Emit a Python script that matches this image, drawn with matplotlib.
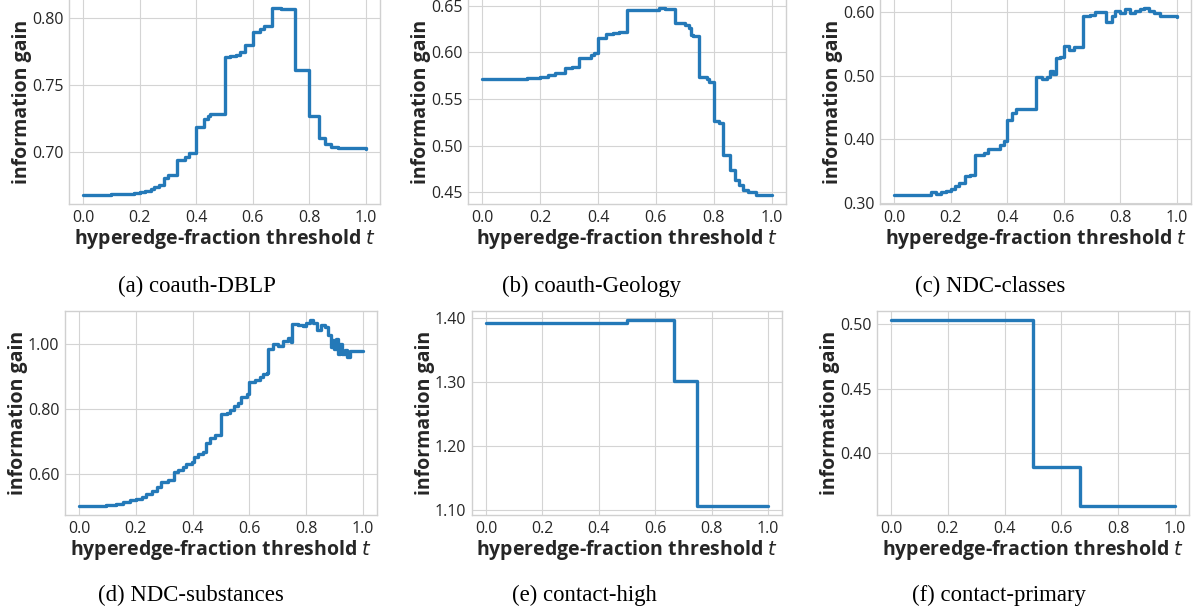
import matplotlib
matplotlib.use("Agg")
import matplotlib.pyplot as plt
from matplotlib.ticker import MultipleLocator, FormatStrFormatter

# information gain vs. hyperedge-fraction threshold t
t_dblp = [0.0, 0.10, 0.15, 0.18, 0.20, 0.22, 0.24, 0.25, 0.27, 0.2857, 0.30, 0.3333, 0.36, 0.375,
          0.40, 0.4286, 0.44, 0.45, 0.50, 0.52, 0.54, 0.556, 0.5714, 0.60, 0.625, 0.64, 0.6667,
          0.70, 0.75, 0.80, 0.8333, 0.8571, 0.875, 0.90, 1.0]
ig_dblp = [0.668, 0.6682, 0.6686, 0.6692, 0.6700, 0.6710, 0.6722, 0.6740, 0.6755, 0.6805, 0.6825,
           0.6942, 0.6960, 0.6995, 0.7185, 0.7248, 0.7270, 0.7285, 0.7710, 0.7715, 0.7725, 0.7745,
           0.7795, 0.7893, 0.7918, 0.7938, 0.8072, 0.8068, 0.7615, 0.7265, 0.7100, 0.7055, 0.7035,
           0.7025, 0.7022]

t_geology = [0.0, 0.155, 0.20, 0.226, 0.25, 0.2857, 0.31, 0.3333, 0.375, 0.385, 0.40, 0.4286, 0.45,
             0.473, 0.50, 0.57, 0.61, 0.63, 0.6667, 0.70, 0.7143, 0.72, 0.73, 0.75, 0.775, 0.785,
             0.80, 0.818, 0.8333, 0.8571, 0.875, 0.888, 0.90, 0.92, 0.945, 1.0]
ig_geology = [0.5719, 0.5726, 0.574, 0.5755, 0.578, 0.583, 0.5844, 0.5944, 0.597, 0.599, 0.6149,
              0.6195, 0.621, 0.6213, 0.6453, 0.6457, 0.6471, 0.646, 0.631, 0.6292, 0.6256, 0.6185,
              0.617, 0.574, 0.5711, 0.5683, 0.5263, 0.5246, 0.4905, 0.4737, 0.4636, 0.4582, 0.4529,
              0.45, 0.4475, 0.4475]

t_classes = [0.0, 0.124, 0.13, 0.147, 0.165, 0.182, 0.20, 0.214, 0.23, 0.25, 0.27, 0.2857, 0.318,
             0.3333, 0.365, 0.376, 0.388, 0.40, 0.418, 0.43, 0.50, 0.523, 0.54, 0.553, 0.562, 0.5714,
             0.586, 0.60, 0.618, 0.635, 0.6667, 0.694, 0.71, 0.75, 0.77, 0.78, 0.80, 0.818, 0.835,
             0.853, 0.87, 0.882, 0.90, 0.918, 0.94, 1.0]
ig_classes = [0.3132, 0.313, 0.3168, 0.3147, 0.3168, 0.319, 0.3226, 0.3263, 0.3316, 0.3421, 0.3442,
              0.3758, 0.378, 0.3853, 0.3842, 0.3916, 0.3974, 0.4305, 0.442, 0.4474, 0.4984, 0.4947,
              0.4989, 0.5079, 0.5026, 0.5274, 0.529, 0.5463, 0.541, 0.5447, 0.5937, 0.5958, 0.60,
              0.5853, 0.5947, 0.6026, 0.599, 0.6053, 0.599, 0.6026, 0.6053, 0.6063, 0.6026, 0.599,
              0.5937, 0.5921]

t_substances = [0.0, 0.073, 0.096, 0.13, 0.155, 0.18, 0.20, 0.22, 0.237, 0.255, 0.273, 0.29, 0.314,
                0.3333, 0.35, 0.367, 0.378, 0.396, 0.405, 0.42, 0.435, 0.447, 0.46, 0.478, 0.50,
                0.52, 0.53, 0.545, 0.56, 0.572, 0.59, 0.60, 0.62, 0.637, 0.648, 0.663, 0.6667, 0.684,
                0.70, 0.72, 0.737, 0.748, 0.75, 0.772, 0.79, 0.80, 0.813, 0.825, 0.837, 0.854, 0.866,
                0.878, 0.887, 0.895, 0.90, 0.907, 0.913, 0.919, 0.928, 0.937, 0.945, 0.954, 1.0]
ig_substances = [0.5028, 0.503, 0.5049, 0.508, 0.513, 0.519, 0.5243, 0.5284, 0.5386, 0.5468, 0.5601,
                 0.5744, 0.5816, 0.6061, 0.6143, 0.6215, 0.6307, 0.6389, 0.6532, 0.6634, 0.6696,
                 0.6951, 0.7105, 0.7207, 0.7841, 0.7872, 0.7974, 0.8097, 0.8179, 0.8384, 0.8455,
                 0.8824, 0.8895, 0.8997, 0.9079, 0.912, 0.9867, 1.002, 0.9949, 1.0102, 1.0194, 1.0072,
                 1.0634, 1.0583, 1.0563, 1.0665, 1.0737, 1.0665, 1.043, 1.0604, 1.0532, 1.0297, 0.9918,
                 1.0123, 0.9867, 1.0153, 0.9714, 1.002, 0.9714, 0.9816, 0.9611, 0.9785, 0.9785]

t_high = [0.0, 0.50, 0.6667, 0.75, 1.0]
ig_high = [1.3927, 1.3969, 1.3026, 1.1073, 1.1073]

t_primary = [0.0, 0.50, 0.6667, 1.0]
ig_primary = [0.5028, 0.3889, 0.3593, 0.3593]

captions = ["(a) coauth-DBLP", "(b) coauth-Geology", "(c) NDC-classes",
            "(d) NDC-substances", "(e) contact-high", "(f) contact-primary"]
panels = [(t_dblp, ig_dblp), (t_geology, ig_geology), (t_classes, ig_classes),
          (t_substances, ig_substances), (t_high, ig_high), (t_primary, ig_primary)]
y_steps = [0.05, 0.05, 0.1, 0.2, 0.1, 0.05]

plt.style.use("seaborn-v0_8-whitegrid")
plt.rcParams["font.family"] = ["Open Sans", "DejaVu Sans"]
plt.rcParams["mathtext.fontset"] = "dejavusans"
plt.rcParams["axes.edgecolor"] = "#d0d0d0"
plt.rcParams["grid.color"] = "#d4d4d4"

W, H = 1198, 613
fig = plt.figure(figsize=(W / 100, H / 100), dpi=100)

# pixel boxes (left, top, right, bottom) of each axes
boxes = [(69, -1, 380, 204), (468, -1, 786, 204), (880, -1, 1191, 204),
         (65, 311, 377, 515), (472, 311, 782, 515), (877, 311, 1189, 515)]
caption_pos = [(197, 286), (591, 286), (990, 286), (191, 595), (584, 595), (999, 595)]

for i, (x, y) in enumerate(panels):
    l, t, r, b = boxes[i]
    ax = fig.add_axes([l / W, 1 - b / H, (r - l) / W, (b - t) / H])
    ax.plot(x, y, drawstyle="steps-post", color="#2479b8", lw=2.4)
    ax.xaxis.set_major_locator(MultipleLocator(0.2))
    ax.xaxis.set_major_formatter(FormatStrFormatter("%.1f"))
    ax.yaxis.set_major_locator(MultipleLocator(y_steps[i]))
    ax.yaxis.set_major_formatter(FormatStrFormatter("%.2f"))
    ax.tick_params(labelsize=11.5, colors="#262626", length=0, pad=4)
    ax.set_xlabel("hyperedge-fraction threshold $t$", fontsize=14, fontweight="bold",
                  color="#262626", labelpad=1)
    ax.set_ylabel("information gain", fontsize=14, fontweight="bold", color="#262626", labelpad=0)
    for s in ax.spines.values():
        s.set_linewidth(1.0)
    cx, cy = caption_pos[i]
    fig.text(cx / W, 1 - cy / H, captions[i], ha="center", va="center",
             fontsize=16.4, family="Liberation Serif", color="black")

fig.savefig("out.png", dpi=100)
